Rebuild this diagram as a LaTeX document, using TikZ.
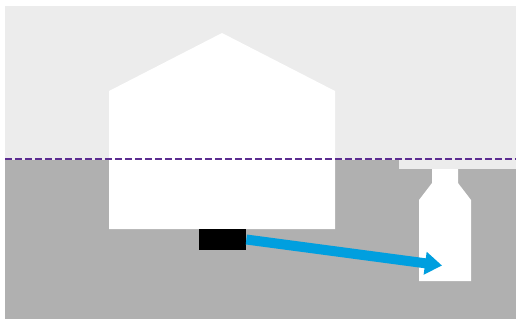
\documentclass[tikz,border=0pt]{standalone}
\usepackage{tikz}
\usetikzlibrary{arrows.meta}

\definecolor{skygrey}{HTML}{ECECEC}
\definecolor{soilgrey}{HTML}{B0B0B0}
\definecolor{flowblue}{HTML}{009FDF}
\definecolor{levelpurple}{HTML}{5C2D91}

\begin{document}
\begin{tikzpicture}[x=0.02cm,y=-0.02cm,
    outline/.style={fill=white,draw=none},
    flow/.style={draw=flowblue,line width=0.2cm,-{Triangle[length=0.34cm,width=0.44cm]}},
    level/.style={draw=levelpurple,line width=0.03cm,dash pattern=on 0.14cm off 0.06cm}]
    \useasboundingbox (0,0) rectangle (516,322);

    % Sfondo
    \fill[skygrey] (5,6) rectangle (516,160);
    \fill[soilgrey] (5,160) rectangle (516,319);
    \fill[skygrey] (399,160) rectangle (516,169);

    % Sagome bianche
    \fill[outline] (109,229) -- (109,91) -- (222,33) -- (335,91) -- (335,229) -- cycle;
    \fill[outline] (432,169) -- (458,169) -- (458,183) -- (471,200) -- (471,281)
        -- (419,281) -- (419,200) -- (432,183) -- cycle;

    % Livello
    \coordinate (levelstart) at (5,159);
    \coordinate (levelend) at (516,159);
    \draw[level] (levelstart) -- (levelend);

    % Scatola e freccia
    \node [fill=black,inner sep=0pt,minimum width=0.94cm,minimum height=0.42cm](box) at (222.5,239.5) {};
    \coordinate (target) at (442,265.5);
    \draw[flow] (box.east) -- (target);
\end{tikzpicture}
\end{document}
